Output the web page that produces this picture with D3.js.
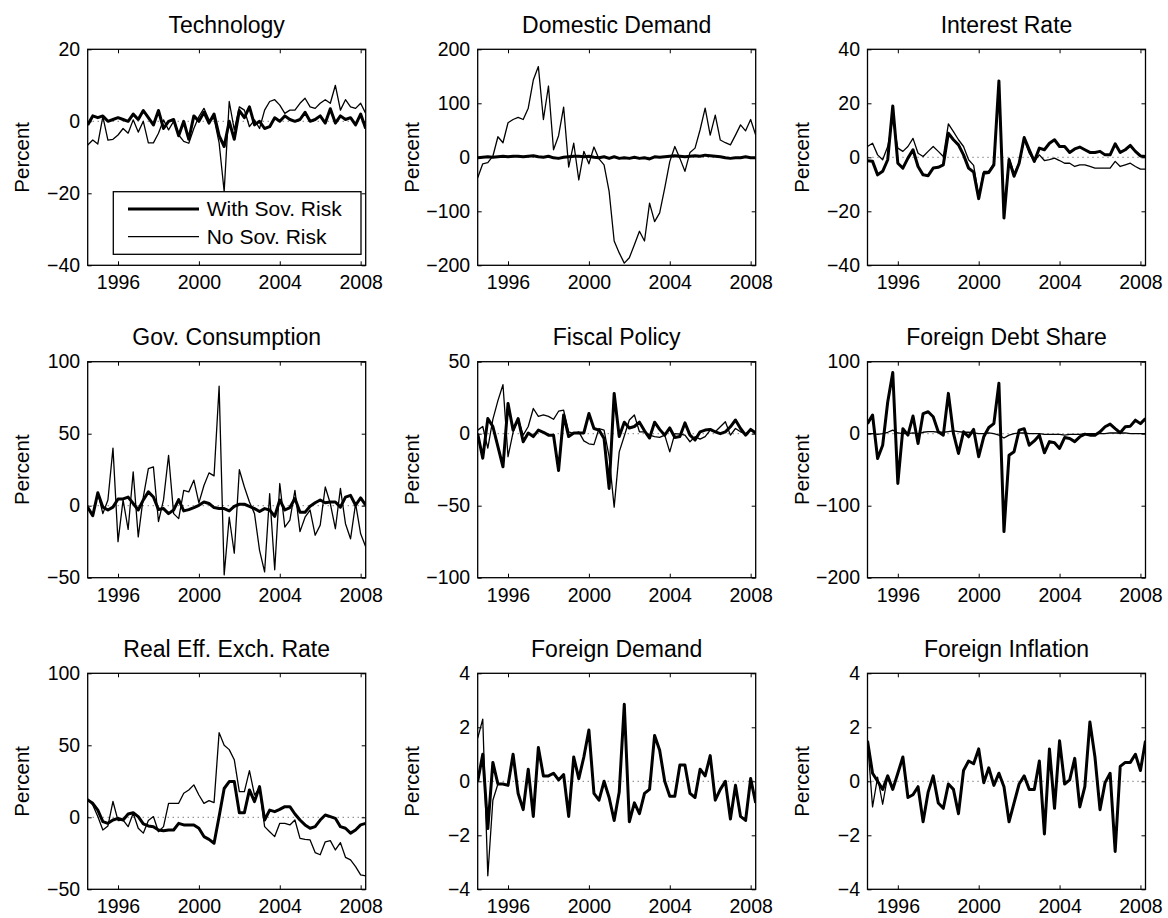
<!DOCTYPE html>
<html><head><meta charset="utf-8">
<script src="https://cdn.jsdelivr.net/npm/d3@7"></script>
<style>
html,body{margin:0;padding:0;background:#fff;}
svg{display:block;font-family:"Liberation Sans",Arial,Helvetica,sans-serif;}
</style></head><body>
<svg id="chart" width="1168" height="918"></svg>
<script>
// ---------- categories ----------
const quarters = d3.range(56).map(i => 1994.5 + i * 0.25); // 1994Q3 .. 2008Q2
const xTickYears = [1996, 2000, 2004, 2008];
const seriesNames = ["With Sov. Risk", "No Sov. Risk"];
const titles = ["Technology", "Domestic Demand", "Interest Rate",
                "Gov. Consumption", "Fiscal Policy", "Foreign Debt Share",
                "Real Eff. Exch. Rate", "Foreign Demand", "Foreign Inflation"];
const yTickValues = [
  [-40, -20, 0, 20], [-200, -100, 0, 100, 200], [-40, -20, 0, 20, 40],
  [-50, 0, 50, 100], [-100, -50, 0, 50], [-200, -100, 0, 100],
  [-50, 0, 50, 100], [-4, -2, 0, 2, 4], [-4, -2, 0, 2, 4]
];
const yLabel = "Percent";

// ---------- series values ----------
const techWith = [-1,1.5,1,1.5,0,0.5,1,0.5,0,2, 0.5,3,1,-1,3,-2,0,0.5,-4,0, -5,1.5,0,2.5,-0.5,2,-4,-7,0,-5, 3,1,4,-1,0,-2,-1.5,1,0,1.5, 0.5,0,0.5,2.5,0,0.5,1.5,-0.5,3.5,-0.5, 1.5,0.5,1,-1,2,-2];
const techNo = [-6.6,-5.2,-6.3,1.3,-5.2,-5,-3.8,-2,-3.3,0.4, -3,0,-6,-6,-3.3,0.4,-2.4,0,-3.8,-5.6, -6.1,-2,1.3,3.6,0.4,0.8,-6,-19.5,5.5,-2.4, 4,3.1,-1.5,0.4,-2,3.1,5.5,6,4.5,2.2, 3.1,3.1,5,6.4,4,3.6,5,6,5,10, 3.1,6,4,3.6,5,2.2];

const domWith = [-1,0,1,0,1,2,1,2,2,1, 2,3,1,0,2,-1,-2,0,1,2, 2,1,2,0,-1,1,-2,1,-2,-1, -2,0,-2,-1,-3,1,0,1,2,3, 2,1,2,3,2,4,3,2,1,-1, -2,-1,-1,1,-1,-1];
const domNo = [-38,-12,-10,2,38,27,64,70,74,70, 91,143,168,70,132,14,40,93,-18,26, -42,11,-12,19,-3,-14,-63,-155,-177,-196, -186,-162,-137,-155,-85,-119,-103,-57,-8,20, -2,-26,9,17,51,91,41,78,32,27, 23,41,60,49,70,41];

const rateWith = [-1.3,-1.5,-6.5,-5.2,-0.9,19,-2.2,-4,-0.3,2.8, -3.4,-6.5,-6.8,-4,-3.7,-2.8,8.9,6.5,4.6,0.9, -4,-5.5,-15.3,-5.9,-5.6,-2.8,28.3,-22.5,-0.9,-7, -2.2,7.3,2.8,-1.5,3.4,2.8,5.2,6.5,4,4, 1.8,3.1,3.8,2.8,1.8,1.8,2.2,0.9,0.9,5, 1.8,2.8,4.4,2.2,0.5,0.3];
const rateNo = [4,5.2,0.9,-0.9,4,14,3.4,2.2,4,7, 1.5,0.3,2.2,4,2.2,0.3,12.4,9.5,6.5,4, -0.9,-3,-14.5,-5.2,-5.2,-2.2,26,-20.6,-0.3,-5.9, -2.2,6.5,1.5,-1.5,0.9,-1.2,-0.9,-0.3,-1.2,-2.2, -2.2,-3.4,-2.8,-2.8,-3.4,-4,-4,-4,-4,-1.5, -3.4,-2.8,-2.2,-3.4,-4.4,-4.4];

const govWith = [-1,-7,9,-1,-3,-1,4.7,4.7,6,1.5, -3,4,9.6,6,-2.7,-2,-5.5,-3,4.2,-3.6, -2.7,-1.3,0.3,2.6,1.5,-1.3,-2,-2,-3.6,-0.4, 1,1,-0.4,-2,-4,-2,-3,-7.4,4,-3, -1.3,5,-4.5,-4.5,-0.4,2,4,2,2.6,2.6, -1,6,7.2,0.3,5.4,0.3];
const govNo = [-1,-7,9,-5.5,4,40,-25,4,-16.5,23.5, -21.7,6,25.7,27,-11,4,35,-5.5,-9,10.7, 9.6,17.7,2,14,22.8,20.7,83,-48,-8,-33, 25,13,2.6,-5.5,-31,-46,8.3,-44.5,15.4,-14.8, -10,10.7,-18,-8,-3,-20.5,-13.5,13,1.5,-16, 12,-12.5,-23,1.5,-19.5,-28.5];

const fiscWith = [0,-17,10.5,5,-9,-23,21,2.5,10.5,-5.6, 0.5,-2,2.5,1,-1,-1,-25.5,13,-2,0.5, 0.5,0.5,14,3.6,2.5,-3.4,-38,28,-2,8, 4,5,8,2,-3,8,3,-1,4,-2.6, -2,7.5,-1,-4.4,1.3,2.5,3,1.3,0,1.3, 4.8,9.5,3.6,-1,3,0.5];
const fiscNo = [2.5,5,-10,10,23,34,-16,1,10.5,-1, 5,17.5,12,13,12,10,15.6,16.3,1.3,0, 1.3,-5,-7,-7.6,3.6,2.5,-16,-51,-12.6,-1.6, 9.5,13,1.3,1.3,-1,-2,-2.6,-1,-12.6,0, -0.3,-1,-5.6,-2,-3.8,-2,2.5,1.3,4.8,8.3, -1,3.6,1.3,0,2.5,0];

const debtWith = [14,26,-34.5,-16,44,85,-69,7,-2,24.5, -13.6,28,30.5,23.5,2.6,-2,56,0.3,-27.5,2.6, -4.3,5.9,-32,-4.3,8.7,14,70,-136,-30,-25, 5,7,-16,-10,-2,-26.5,-11,-12.6,-20.5,-5.3, -6.6,-11,-4.3,-0.6,-2,-2,2.6,9.6,13.3,7, 1.3,9.6,10.5,18.8,14,21];
const debtNo = [0,0,-1,0,2,5,1,0,0,1, 0,2,3,3,2,2,3,4,3,2, 2,1,0,0,1,0,-2,-6,-2,0, 1,1,0,0,0,-1,-1,-1,-1,-2, -1,-1,-1,0,0,0,0,0,1,1, 1,1,0,0,0,0];

const reerWith = [12,9.7,5,-3,-4.2,-1.9,-0.7,-1.9,2.3,3.2, 0.5,-4.6,-6,-6.5,-8.8,-9.3,-8.8,-8.8,-4.2,-5.3, -5.3,-5.3,-7.6,-13.4,-15.3,-18,0.5,20,24.8,24.8, 3.2,3.2,19,10.9,21.3,-1.9,5,3.9,5.5,7.4, 7.4,2.3,-1.9,-5.3,-7.6,-6.5,-1.9,1.6,0.5,-0.7, -6.5,-7.6,-11,-8.8,-5.3,-4.2];
const reerNo = [13,8.5,0.5,-8.8,-6,11,-2.3,-1.9,-6.5,2.8, -7.6,-11,-2.3,0.5,-10,-6.5,9.7,9.7,9.7,16.7, 19,22.5,15.5,9.7,11.6,10.2,58.8,50,47,40, 17.8,17.8,32.4,15.5,20,-6.5,-10,-13.4,-4.2,-4.2, -5.3,-1.9,-14.6,-15.3,-15.7,-24.5,-26,-17,-16.2,-22.7, -17.6,-27.8,-29.6,-34.3,-40,-40.7];

const fdemWith = [0,1,-1.75,0.7,-0.1,-0.1,-0.15,1,-0.45,-1.05, 0.45,-1.3,1.25,0.2,0.2,0.3,0.05,0.25,-1.3,0.9, 0.1,0.9,1.9,-0.45,-0.7,0,-0.6,-1.45,-0.4,2.85, -1.5,-0.8,-1.2,-0.45,-0.3,1.7,1.15,0,-0.55,-0.55, 0.6,0.6,-0.45,-0.6,0.45,0.2,0.95,-0.7,-0.3,0, -1.4,-0.15,-1.3,-1.45,0.1,-0.8];
const fdemNo = [1.6,2.3,-3.5,-0.7,-0.1,-0.1,-0.15,1,-0.45,-1.05, 0.45,-1.3,1.25,0.2,0.2,0.3,0.05,0.25,-1.3,0.9, 0.1,0.9,1.9,-0.45,-0.7,0,-0.6,-1.45,-0.4,2.85, -1.5,-0.8,-1.2,-0.45,-0.3,1.7,1.15,0,-0.55,-0.55, 0.6,0.6,-0.45,-0.6,0.45,0.2,0.95,-0.7,-0.3,0, -1.4,-0.15,-1.3,-1.45,0.1,-0.8];

const finfWith = [1.5,0.3,0,-0.3,0.2,-0.3,0.3,0.9,-0.6,-0.5, -0.2,-1.5,-0.4,0.2,-0.8,-1,-0.1,-0.3,-1.2,0.4, 0.75,0.65,1.2,-0.05,0.5,-0.15,0.3,-0.2,-1.5,-0.8, -0.1,0.2,-0.3,-0.3,0.75,-1.95,1.2,-1,1.5,-0.1, 0.05,0.85,-0.95,-0.2,2.2,0.9,-1.05,-0.05,0.3,-2.6, 0.55,0.7,0.7,1,0.4,1.5];
const finfNo = [1.5,-0.95,0.15,-0.85,0.2,-0.3,0.3,0.9,-0.6,-0.5, -0.2,-1.5,-0.4,0.2,-0.8,-1,-0.1,-0.3,-1.2,0.4, 0.75,0.65,1.2,-0.05,0.5,-0.15,0.3,-0.2,-1.5,-0.8, -0.1,0.2,-0.3,-0.3,0.75,-1.95,1.2,-1,1.5,-0.1, 0.05,0.85,-0.95,-0.2,2.2,0.9,-1.05,-0.05,0.3,-2.6, 0.55,0.7,0.7,1,0.4,1.5];

const withRisk = [techWith, domWith, rateWith, govWith, fiscWith, debtWith, reerWith, fdemWith, finfWith];
const noRisk   = [techNo, domNo, rateNo, govNo, fiscNo, debtNo, reerNo, fdemNo, finfNo];

// ---------- layout ----------
const W = 278, H = 216;
const colX = [87.7, 477.7, 867.5];
const rowY = [49.3, 361.7, 673.3];
const TICK = 4;
const svg = d3.select("#chart");

const x = d3.scaleLinear().domain([quarters[0], quarters[quarters.length - 1]]).range([0, W]);
const fmtY = d => (d < 0 ? "\u2212" + Math.abs(d) : String(d));

titles.forEach((title, p) => {
  const tv = yTickValues[p];
  const y = d3.scaleLinear().domain([tv[0], tv[tv.length - 1]]).range([H, 0]);
  const g = svg.append("g").attr("transform", `translate(${colX[p % 3]},${rowY[Math.floor(p / 3)]})`);

  g.append("defs").append("clipPath").attr("id", "clip" + p)
    .append("rect").attr("x", 0).attr("y", 0).attr("width", W).attr("height", H);

  // zero line (dotted)
  g.append("line").attr("x1", 0).attr("x2", W).attr("y1", y(0)).attr("y2", y(0))
    .attr("stroke", "#444").attr("stroke-width", 1).attr("stroke-dasharray", "1,4");

  const line = d3.line().x((d, i) => x(quarters[i])).y(d => y(d));
  const plot = g.append("g").attr("clip-path", `url(#clip${p})`);
  plot.append("path").datum(withRisk[p]).attr("d", line)
    .attr("fill", "none").attr("stroke", "#000").attr("stroke-width", 3).attr("stroke-linejoin", "round");
  plot.append("path").datum(noRisk[p]).attr("d", line)
    .attr("fill", "none").attr("stroke", "#000").attr("stroke-width", 1.3).attr("stroke-linejoin", "round");

  // axes
  const styleAxis = sel => {
    sel.attr("font-size", null).attr("font-family", null);
    sel.select(".domain").remove();
    sel.selectAll(".tick line").attr("stroke", "#000").attr("stroke-width", 1);
    sel.selectAll(".tick text").attr("fill", "#000").style("font-size", "19.5px");
  };
  g.append("g").attr("transform", `translate(0,${H})`)
    .call(d3.axisBottom(x).tickValues(xTickYears).tickFormat(d3.format("d")).tickSize(-TICK).tickPadding(10))
    .call(styleAxis);
  g.append("g")
    .call(d3.axisTop(x).tickValues(xTickYears).tickFormat("").tickSize(-TICK))
    .call(styleAxis);
  g.append("g")
    .call(d3.axisLeft(y).tickValues(tv).tickFormat(fmtY).tickSize(-TICK).tickPadding(7.5))
    .call(styleAxis);
  g.append("g").attr("transform", `translate(${W},0)`)
    .call(d3.axisRight(y).tickValues(tv).tickFormat("").tickSize(-TICK))
    .call(styleAxis);

  // box
  g.append("rect").attr("x", 0).attr("y", 0).attr("width", W).attr("height", H)
    .attr("fill", "none").attr("stroke", "#000").attr("stroke-width", 1.3);

  // title & y label
  g.append("text").attr("x", W / 2).attr("y", -16.5).attr("text-anchor", "middle")
    .style("font-size", "23px").attr("fill", "#000").text(title);
  g.append("text").attr("transform", `translate(-58.5,${H / 2}) rotate(-90)`)
    .attr("text-anchor", "middle").style("font-size", "20.5px").attr("fill", "#000").text(yLabel);

  // legend only on first panel
  if (p === 0) {
    const lg = g.append("g");
    lg.append("rect").attr("x", 25.6).attr("y", 142.4).attr("width", 247.7).attr("height", 62.6)
      .attr("fill", "#fff").attr("stroke", "#000").attr("stroke-width", 1.3);
    const rows = [{name: seriesNames[0], w: 3, y: 159.7}, {name: seriesNames[1], w: 1.3, y: 187.4}];
    rows.forEach(r => {
      lg.append("line").attr("x1", 40.3).attr("x2", 111.3).attr("y1", r.y).attr("y2", r.y)
        .attr("stroke", "#000").attr("stroke-width", r.w);
      lg.append("text").attr("x", 119).attr("y", r.y + 7.5).style("font-size", "21px")
        .attr("fill", "#000").text(r.name);
    });
  }
});
</script>
</body></html>
